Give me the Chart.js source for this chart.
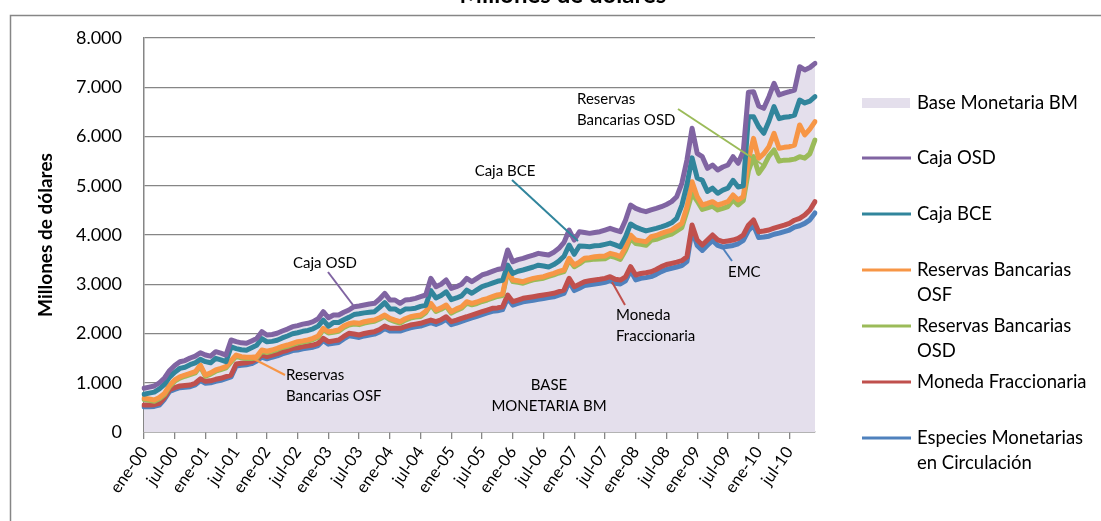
<!DOCTYPE html>
<html>
<head>
<meta charset="utf-8">
<script src="https://cdn.jsdelivr.net/npm/chart.js@4.4.1/dist/chart.umd.min.js"></script>
<style>
  html, body { margin: 0; padding: 0; background: #ffffff; }
  #wrap { width: 1101px; height: 521px; position: relative; }
</style>
</head>
<body>
<div id="wrap"><canvas id="chart"></canvas></div>
<script>
  // months ene-00 .. dic-10
  const monthNames = ["ene", "feb", "mar", "abr", "may", "jun", "jul", "ago", "sep", "oct", "nov", "dic"];
  const years = ["00", "01", "02", "03", "04", "05", "06", "07", "08", "09", "10"];
  const yTicks = [0, 1000, 2000, 3000, 4000, 5000, 6000, 7000, 8000];

  // levels of each line (millones de dólares)
  const cajaOSD = [
    887, 910, 934, 1000, 1096, 1250, 1350, 1427, 1450, 1502, 1540, 1610,
    1563, 1540, 1631, 1600, 1563, 1868, 1834, 1810, 1800, 1850, 1900, 2037,
    1970, 1980, 2004, 2050, 2090, 2139, 2160, 2190, 2207, 2240, 2300, 2443,
    2320, 2375, 2375, 2430, 2477, 2544, 2560, 2579, 2600, 2613, 2700, 2816,
    2680, 2680, 2613, 2680, 2690, 2714, 2750, 2782, 3120, 2951, 3000, 3086,
    2917, 2951, 3000, 3120, 3052, 3120, 3188, 3222, 3260, 3300, 3320, 3695,
    3458, 3500, 3526, 3560, 3590, 3627, 3610, 3594, 3650, 3729, 3850, 4101,
    3898, 4067, 4050, 4033, 4050, 4067, 4100, 4135, 4100, 4067, 4300, 4609,
    4541, 4500, 4473, 4510, 4541, 4575, 4620, 4677, 4778, 5050, 5523, 6166,
    5659, 5590, 5354, 5421, 5320, 5380, 5421, 5590, 5455, 5700, 6900, 6910,
    6620, 6573, 6809, 7080, 6843, 6880, 6910, 6944, 7418, 7351, 7400, 7486
  ];
  const cajaBCE = [
    767, 790, 809, 875, 966, 1115, 1215, 1292, 1315, 1367, 1405, 1475,
    1428, 1405, 1496, 1465, 1428, 1728, 1694, 1670, 1660, 1710, 1760, 1897,
    1830, 1840, 1864, 1910, 1950, 1994, 2015, 2045, 2062, 2095, 2150, 2273,
    2150, 2225, 2225, 2280, 2327, 2384, 2400, 2419, 2430, 2443, 2530, 2626,
    2500, 2500, 2433, 2495, 2500, 2514, 2550, 2572, 2870, 2721, 2770, 2846,
    2687, 2721, 2765, 2880, 2817, 2885, 2951, 2985, 3023, 3060, 3080, 3390,
    3218, 3263, 3289, 3320, 3350, 3387, 3370, 3349, 3400, 3469, 3570, 3796,
    3608, 3777, 3770, 3763, 3780, 3787, 3810, 3835, 3800, 3757, 3960, 4223,
    4161, 4120, 4083, 4110, 4136, 4165, 4200, 4247, 4338, 4600, 5023, 5566,
    5159, 5110, 4884, 4951, 4847, 4910, 4951, 5110, 4975, 5000, 6400, 6403,
    6200, 6065, 6309, 6606, 6363, 6390, 6403, 6434, 6741, 6681, 6720, 6809
  ];
  const reservasOSF = [
    684, 670, 650, 700, 785, 950, 1056, 1120, 1157, 1190, 1225, 1360,
    1157, 1200, 1259, 1290, 1326, 1450, 1563, 1530, 1516, 1516, 1530, 1665,
    1640, 1665, 1700, 1740, 1766, 1800, 1834, 1850, 1870, 1902, 1950, 2105,
    2037, 2050, 2071, 2150, 2200, 2220, 2207, 2240, 2260, 2274, 2320, 2375,
    2308, 2270, 2240, 2300, 2341, 2360, 2375, 2450, 2613, 2477, 2520, 2579,
    2443, 2500, 2544, 2646, 2613, 2640, 2680, 2710, 2747, 2782, 2800, 3289,
    3086, 3070, 3052, 3090, 3120, 3140, 3154, 3190, 3222, 3260, 3289, 3526,
    3391, 3450, 3526, 3540, 3560, 3570, 3573, 3627, 3600, 3560, 3750, 4000,
    3898, 3880, 3864, 3966, 3990, 4033, 4070, 4101, 4170, 4236, 4575, 5082,
    4778, 4609, 4640, 4677, 4609, 4640, 4677, 4812, 4710, 4778, 5523, 5962,
    5557, 5650, 5793, 6065, 5760, 5780, 5793, 5827, 6234, 6031, 6150, 6301
  ];
  const reservasOSD = [
    659, 645, 625, 675, 760, 925, 1031, 1095, 1132, 1165, 1200, 1335,
    1132, 1175, 1234, 1265, 1301, 1425, 1538, 1505, 1491, 1491, 1505, 1640,
    1615, 1640, 1675, 1715, 1741, 1775, 1809, 1825, 1845, 1877, 1925, 2080,
    2010, 2023, 2044, 2123, 2173, 2193, 2180, 2213, 2233, 2247, 2293, 2348,
    2280, 2242, 2212, 2272, 2313, 2332, 2347, 2422, 2585, 2449, 2492, 2551,
    2413, 2470, 2514, 2616, 2583, 2610, 2650, 2680, 2717, 2752, 2770, 3259,
    3054, 3038, 3020, 3058, 3088, 3108, 3122, 3158, 3190, 3228, 3257, 3494,
    3356, 3413, 3486, 3495, 3510, 3515, 3518, 3572, 3545, 3505, 3690, 3930,
    3828, 3810, 3790, 3890, 3912, 3953, 3988, 4018, 4085, 4150, 4480, 4850,
    4690, 4520, 4550, 4585, 4508, 4540, 4577, 4712, 4610, 4700, 5300, 5590,
    5252, 5400, 5600, 5726, 5500, 5520, 5523, 5540, 5590, 5560, 5650, 5929
  ];
  const monedaFraccionaria = [
    548, 548, 555, 580, 700, 860, 900, 934, 945, 954, 990, 1080,
    1030, 1040, 1070, 1090, 1123, 1157, 1380, 1394, 1407, 1428, 1480, 1560,
    1530, 1563, 1590, 1631, 1660, 1699, 1710, 1733, 1750, 1766, 1800, 1902,
    1834, 1850, 1868, 1940, 2004, 1990, 1970, 2000, 2020, 2037, 2080, 2152,
    2105, 2105, 2105, 2140, 2172, 2190, 2207, 2240, 2274, 2240, 2280, 2341,
    2240, 2270, 2308, 2340, 2375, 2410, 2443, 2477, 2511, 2520, 2544, 2782,
    2646, 2680, 2714, 2730, 2747, 2765, 2782, 2800, 2816, 2850, 2883, 3120,
    2951, 3000, 3052, 3070, 3086, 3100, 3120, 3154, 3100, 3086, 3150, 3357,
    3188, 3220, 3235, 3255, 3300, 3357, 3400, 3425, 3450, 3478, 3560, 4203,
    3898, 3797, 3900, 4000, 3900, 3864, 3880, 3898, 3932, 4000, 4200, 4305,
    4067, 4080, 4101, 4140, 4169, 4200, 4236, 4300, 4338, 4406, 4508, 4677
  ];
  const especiesCirculacion = [
    513, 513, 520, 545, 665, 825, 865, 899, 910, 919, 955, 1045,
    990, 1000, 1030, 1050, 1083, 1117, 1340, 1354, 1367, 1388, 1440, 1520,
    1485, 1518, 1545, 1586, 1615, 1654, 1665, 1688, 1705, 1721, 1755, 1857,
    1784, 1800, 1818, 1890, 1954, 1940, 1920, 1950, 1970, 1987, 2030, 2102,
    2050, 2050, 2050, 2085, 2117, 2135, 2152, 2185, 2219, 2185, 2225, 2286,
    2180, 2210, 2248, 2280, 2315, 2350, 2383, 2417, 2451, 2460, 2484, 2722,
    2576, 2610, 2644, 2660, 2677, 2695, 2712, 2730, 2746, 2780, 2813, 3050,
    2871, 2920, 2972, 2990, 3006, 3020, 3040, 3074, 3020, 3006, 3070, 3277,
    3088, 3120, 3135, 3155, 3200, 3257, 3300, 3325, 3350, 3378, 3460, 4103,
    3788, 3687, 3790, 3890, 3790, 3754, 3770, 3788, 3822, 3890, 4090, 4195,
    3947, 3960, 3976, 4015, 4039, 4070, 4101, 4160, 4188, 4236, 4308, 4447
  ];
  // the base is the top of the stack, i.e. the Caja OSD curve
  const baseMonetaria = cajaOSD;

  const months = [];
  years.forEach((y) => monthNames.forEach((m) => months.push(m + "-" + y)));

  const FONT = "Lato";
  const GRID = "#868686";

  function formatMiles(v) {
    return String(v).replace(/\B(?=(\d{3})+(?!\d))/g, ".");
  }

  function lineSet(label, data, color) {
    return {
      label, data,
      borderColor: color,
      backgroundColor: color,
      borderWidth: 5,
      pointRadius: 0,
      fill: false,
      tension: 0,
      borderJoinStyle: "round",
      borderCapStyle: "round",
    };
  }

  const datasets = [
    {
      label: "Base Monetaria BM",
      data: baseMonetaria,
      backgroundColor: "#E4DFEC",
      borderWidth: 0,
      pointRadius: 0,
      fill: "origin",
      order: 10,
    },
    lineSet("Caja OSD", cajaOSD, "#8064A2"),
    lineSet("Caja BCE", cajaBCE, "#31859C"),
    lineSet("Reservas Bancarias OSF", reservasOSF, "#F79646"),
    lineSet("Reservas Bancarias OSD", reservasOSD, "#9BBB59"),
    lineSet("Moneda Fraccionaria", monedaFraccionaria, "#C0504D"),
    lineSet("Especies Monetarias en Circulación", especiesCirculacion, "#4F81BD"),
  ];

  // legend: dataset index, wrapped text, y of first line
  const legendItems = [
    { ds: 0, text: ["Base Monetaria BM"], y: 103 },
    { ds: 1, text: ["Caja OSD"], y: 158 },
    { ds: 2, text: ["Caja BCE"], y: 214 },
    { ds: 3, text: ["Reservas Bancarias", "OSF"], y: 270 },
    { ds: 4, text: ["Reservas Bancarias", "OSD"], y: 326 },
    { ds: 5, text: ["Moneda Fraccionaria"], y: 382 },
    { ds: 6, text: ["Especies Monetarias", "en Circulación"], y: 438 },
  ];

  // labels written on the plot, with leader lines
  const notes = [
    { text: ["Caja OSD"], x: 325, y: 263, align: "center", color: "#8064A2", from: [328, 272], to: [353, 305] },
    { text: ["Reservas", "Bancarias OSF"], x: 286, y: 375, align: "left", color: "#F79646", from: [285, 375], to: [250, 357] },
    { text: ["Caja BCE"], x: 505, y: 171, align: "center", color: "#31859C", from: [512, 180], to: [578, 241] },
    { text: ["Reservas", "Bancarias OSD"], x: 577, y: 99, align: "left", color: "#9BBB59", from: [678, 109], to: [763, 165] },
    { text: ["Moneda", "Fraccionaria"], x: 616, y: 315, align: "left", color: "#C0504D", from: [625, 305], to: [612, 282] },
    { text: ["EMC"], x: 728, y: 272, align: "left", color: "#4F81BD", from: [732, 261], to: [722, 247] },
    { text: ["BASE", "MONETARIA BM"], x: 549, y: 385, align: "center", color: null },
  ];

  const notesPlugin = {
    id: "notes",
    afterDatasetsDraw(chart) {
      const ctx = chart.ctx;
      ctx.save();
      notes.forEach((n) => {
        if (n.color) {
          ctx.strokeStyle = n.color;
          ctx.lineWidth = 2;
          ctx.beginPath();
          ctx.moveTo(n.from[0], n.from[1]);
          ctx.lineTo(n.to[0], n.to[1]);
          ctx.stroke();
        }
        ctx.fillStyle = "#000";
        ctx.font = "15px " + FONT;
        ctx.textAlign = n.align;
        ctx.textBaseline = "middle";
        n.text.forEach((t, k) => ctx.fillText(t, n.x, n.y + k * 21));
      });
      ctx.restore();
    },
  };

  const framePlugin = {
    id: "frame",
    afterDraw(chart) {
      const ctx = chart.ctx;
      ctx.save();
      // outer chart border (only left and top fall inside the picture)
      ctx.strokeStyle = GRID;
      ctx.lineWidth = 1.5;
      ctx.beginPath();
      ctx.moveTo(10.5, chart.height);
      ctx.lineTo(10.5, 15.5);
      ctx.lineTo(chart.width, 15.5);
      ctx.stroke();

      // chart title, cut by the top edge
      ctx.fillStyle = "#000";
      ctx.font = "bold 24px " + FONT;
      ctx.textAlign = "center";
      ctx.textBaseline = "alphabetic";
      ctx.fillText("Millones de dólares", 563, 3);

      // legend
      ctx.textAlign = "left";
      ctx.textBaseline = "middle";
      ctx.font = "18.5px " + FONT;
      legendItems.forEach((item) => {
        const ds = chart.data.datasets[item.ds];
        if (item.ds === 0) {
          ctx.fillStyle = ds.backgroundColor;
          ctx.fillRect(862, item.y - 5, 48, 10);
        } else {
          ctx.strokeStyle = ds.borderColor;
          ctx.lineWidth = 3;
          ctx.beginPath();
          ctx.moveTo(862, item.y);
          ctx.lineTo(911, item.y);
          ctx.stroke();
        }
        ctx.fillStyle = "#000";
        item.text.forEach((t, k) => ctx.fillText(t, 917, item.y + k * 25));
      });
      ctx.restore();
    },
  };

  Chart.defaults.font.family = FONT;
  Chart.defaults.color = "#000";

  new Chart(document.getElementById("chart"), {
    type: "line",
    data: { labels: months, datasets },
    options: {
      responsive: true,
      maintainAspectRatio: false,
      animation: false,
      layout: { padding: { top: 38, right: 286, bottom: 0, left: 0 } },
      plugins: {
        legend: { display: false },
        tooltip: { enabled: false },
      },
      scales: {
        x: {
          type: "category",
          offset: false,
          afterFit(scale) { scale.height = 89; },
          grid: {
            drawOnChartArea: false,
            drawTicks: true,
            tickLength: 7,
            color: GRID,
            lineWidth: 1.3,
          },
          border: { display: true, color: GRID, width: 1.5 },
          ticks: {
            autoSkip: false,
            maxRotation: 55,
            minRotation: 55,
            padding: 4,
            font: { size: 16.5 },
            callback(value, index) {
              return index % 6 === 0 ? months[index] : null;
            },
          },
        },
        y: {
          min: 0,
          max: 8000,
          afterFit(scale) { scale.width = 144; },
          afterBuildTicks(scale) { scale.ticks = yTicks.map((v) => ({ value: v })); },
          grid: { color: GRID, lineWidth: 1.3, drawTicks: false },
          border: { display: true, color: GRID, width: 1.5 },
          ticks: {
            padding: 22,
            font: { size: 18 },
            callback(value) { return formatMiles(value); },
          },
          title: {
            display: true,
            text: "Millones de dólares",
            font: { size: 19, weight: "bold" },
            padding: { top: 34, bottom: 0 },
          },
        },
      },
    },
    plugins: [notesPlugin, framePlugin],
  });
</script>
</body>
</html>
